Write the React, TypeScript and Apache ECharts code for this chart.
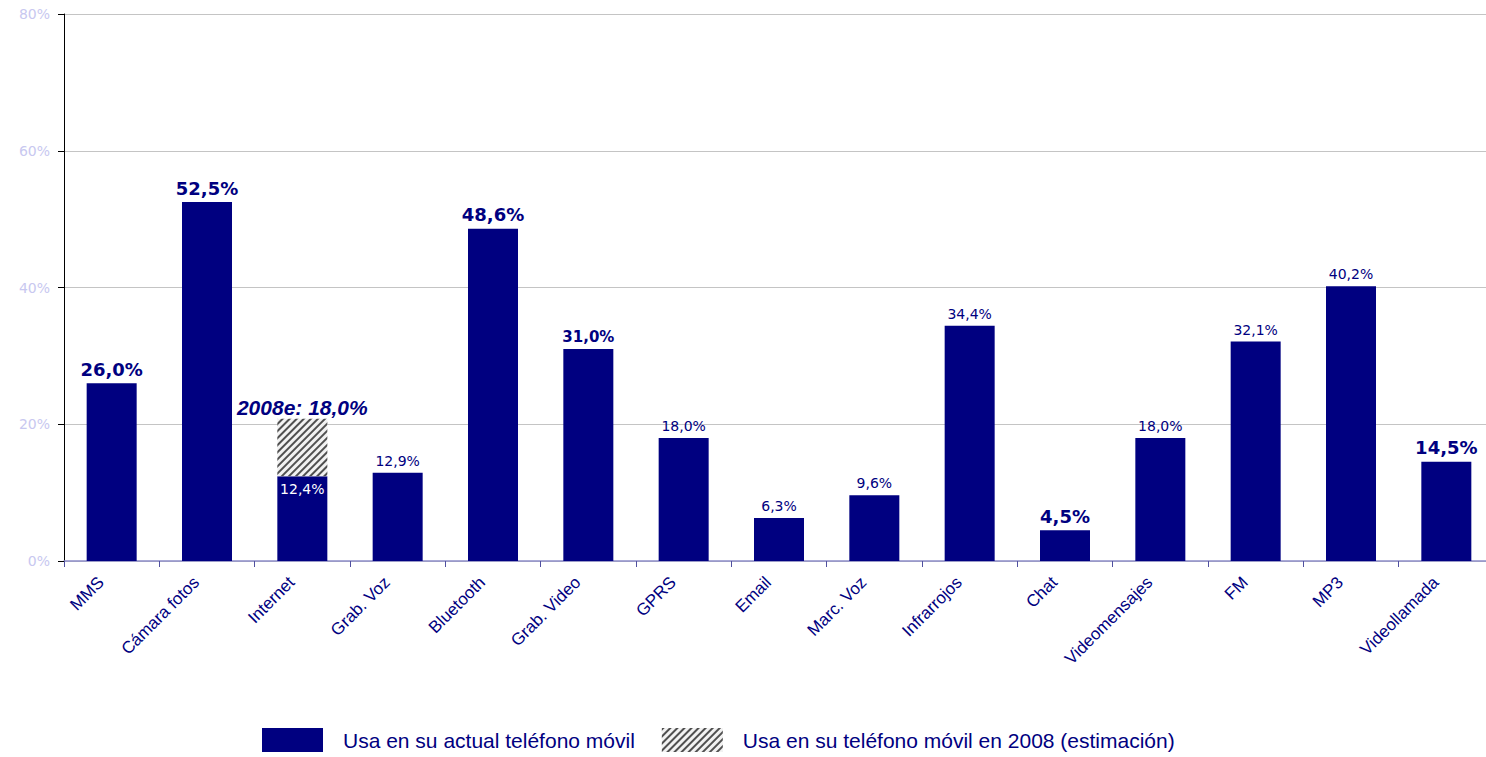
import React, { useEffect, useRef } from "react";
import * as echarts from "echarts";

const categories = [
  "MMS", "Cámara fotos", "Internet", "Grab. Voz", "Bluetooth", "Grab. Video", "GPRS",
  "Email", "Marc. Voz", "Infrarrojos", "Chat", "Videomensajes", "FM", "MP3", "Videollamada",
];
const currentUse = [26.0, 52.5, 12.4, 12.9, 48.6, 31.0, 18.0, 6.3, 9.6, 34.4, 4.5, 18.0, 32.1, 40.2, 14.5];
// hatched 2008 estimate segment stacked on top of the current value (drawn height)
const estimate2008Segment = [null, null, 8.4, null, null, null, null, null, null, null, null, null, null, null, null];
const estimate2008Label = 18.0;
const yTicks = [0, 20, 40, 60, 80];
const seriesNames = ["Usa en su actual teléfono móvil", "Usa en su teléfono móvil en 2008 (estimación)"];

const boldLarge = ["MMS", "Cámara fotos", "Bluetooth", "Chat", "Videollamada"];
const boldSmall = ["Grab. Video"];
const insideWhite = ["Internet"];

const NAVY = "#000080";
const fmt = (v: number) => v.toFixed(1).replace(".", ",") + "%";

export default function App() {
  const ref = useRef<HTMLDivElement>(null);
  useEffect(() => {
    if (!ref.current) return;
    const chart = echarts.init(ref.current, null, { renderer: "svg" });
    const decal = {
      symbol: "rect",
      symbolSize: 1,
      dashArrayX: [1, 0],
      dashArrayY: [1.6, 2.2],
      rotation: -Math.PI / 4,
      color: "#505050",
      backgroundColor: "#f2f2f2",
    };
    const mainData = currentUse.map((v, i) => {
      const name = categories[i];
      let label: any = {
        show: true,
        position: "top",
        distance: 5,
        color: NAVY,
        fontFamily: "DejaVu Sans",
        fontSize: 14,
        fontWeight: "normal",
        formatter: () => fmt(v),
      };
      if (boldLarge.includes(name)) label = { ...label, fontSize: 18, fontWeight: "bold" };
      if (boldSmall.includes(name)) label = { ...label, fontSize: 15, fontWeight: "bold" };
      if (insideWhite.includes(name))
        label = { ...label, position: "insideTop", distance: 6, color: "#ffffff", fontSize: 14 };
      return { value: v, label };
    });
    const estData = estimate2008Segment.map((v) =>
      v == null
        ? null
        : {
            value: v,
            label: {
              show: true,
              position: "top",
              distance: 1,
              color: NAVY,
              fontFamily: "Liberation Sans",
              fontSize: 21,
              fontWeight: "bold",
              fontStyle: "italic",
              formatter: () => "2008e: " + fmt(estimate2008Label),
            },
          }
    );
    chart.setOption({
      animation: false,
      backgroundColor: "#ffffff",
      grid: { left: 64, right: 2, top: 14, bottom: 196, containLabel: false },
      legend: {
        left: 262,
        top: 728,
        padding: 0,
        itemWidth: 61,
        itemHeight: 24,
        itemGap: 27,
        icon: "rect",
        textStyle: {
          color: NAVY,
          fontFamily: "Liberation Sans",
          fontSize: 21,
          padding: [0, 0, 0, 15],
        },
        data: seriesNames,
      },
      xAxis: {
        type: "category",
        data: categories,
        axisLine: { lineStyle: { color: "#8c8cc8", width: 1.5 } },
        axisTick: { show: true, length: 6, lineStyle: { color: "#5050a0" } },
        axisLabel: {
          rotate: 45,
          margin: 8,
          interval: 0,
          color: NAVY,
          fontFamily: "Liberation Sans",
          fontSize: 17,
          padding: [0, 15, 0, 0],
        },
      },
      yAxis: {
        type: "value",
        min: yTicks[0],
        max: yTicks[yTicks.length - 1],
        interval: yTicks[1] - yTicks[0],
        axisLine: { show: true, lineStyle: { color: "#000000", width: 1 } },
        axisTick: { show: true, length: 6, lineStyle: { color: "#000000" } },
        axisLabel: {
          color: "#c8c8f0",
          fontFamily: "DejaVu Sans",
          fontSize: 14,
          margin: 14,
          formatter: "{value}%",
        },
        splitLine: { lineStyle: { color: "#c4c4c4", width: 1 } },
      },
      series: [
        {
          name: seriesNames[0],
          type: "bar",
          stack: "a",
          barWidth: 50,
          itemStyle: { color: NAVY },
          data: mainData,
        },
        {
          name: seriesNames[1],
          type: "bar",
          stack: "a",
          barWidth: 50,
          itemStyle: { color: "#f2f2f2", decal },
          data: estData,
        },
      ],
    });
    return () => chart.dispose();
  }, []);
  return (
    <div
      style={{
        position: "absolute",
        left: 0,
        top: 0,
        width: 1486,
        height: 757,
        overflow: "hidden",
        background: "#ffffff",
      }}
    >
      <div ref={ref} style={{ width: 1496, height: 757 }} />
    </div>
  );
}
